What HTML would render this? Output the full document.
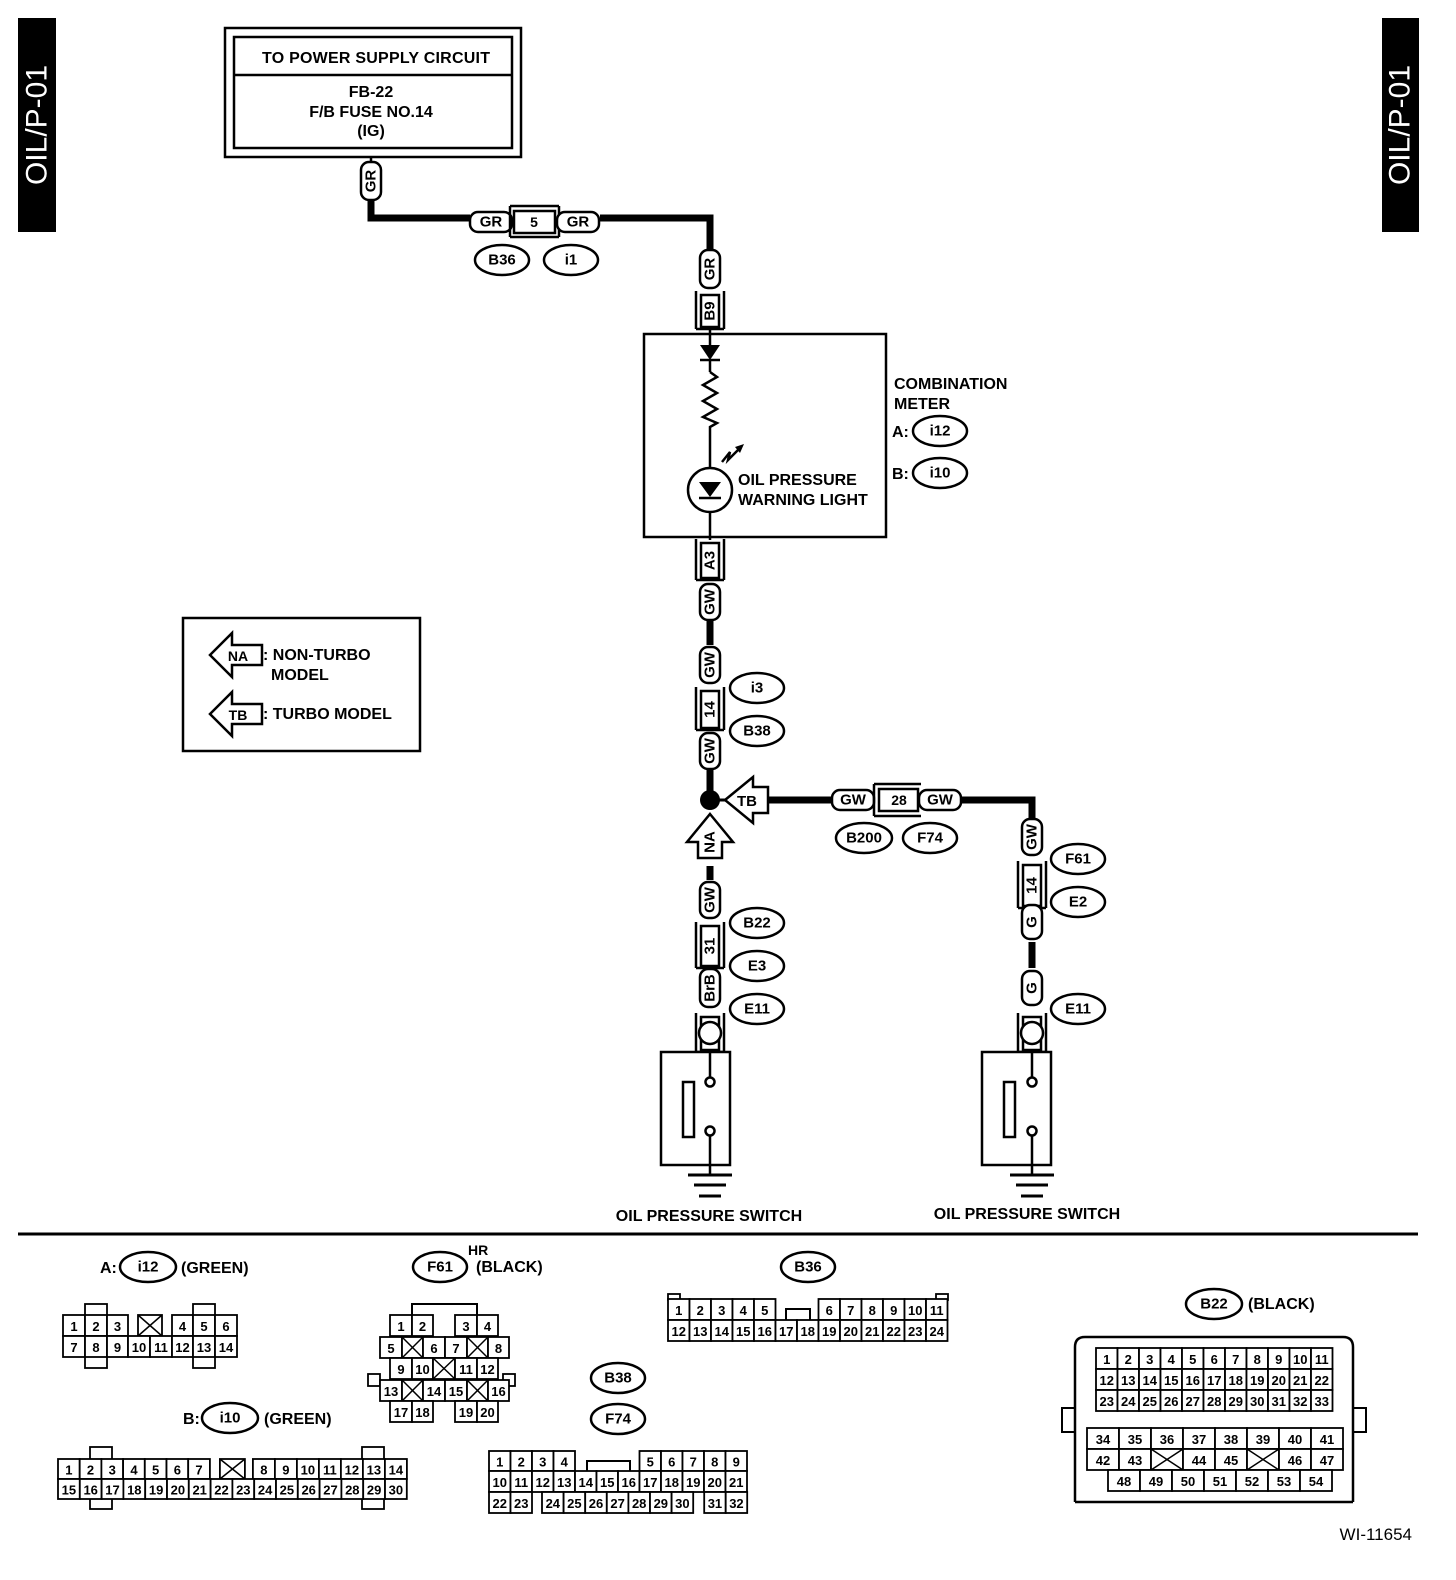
<!DOCTYPE html>
<html><head><meta charset="utf-8"><style>
html,body{margin:0;padding:0;background:#fff}
svg{display:block}
text{font-family:"Liberation Sans",Arial,sans-serif;font-weight:bold;fill:#000}
</style></head><body>
<svg id="s" width="1456" height="1580" viewBox="0 0 1456 1580" xmlns="http://www.w3.org/2000/svg">
<rect width="1456" height="1580" fill="#fff"/>
<rect x="18" y="18" width="38" height="214" fill="#000"/>
<text x="37" y="125" fill="#fff" style="fill:#fff;font-weight:normal" font-size="30" text-anchor="middle" dominant-baseline="central" transform="rotate(-90 37 125)">OIL/P-01</text>
<rect x="1382" y="18" width="37" height="214" fill="#000"/>
<text x="1400" y="125" style="fill:#fff;font-weight:normal" font-size="30" text-anchor="middle" dominant-baseline="central" transform="rotate(-90 1400 125)">OIL/P-01</text>
<rect x="225" y="28" width="296" height="129" fill="none" stroke="#000" stroke-width="2.5"/>
<rect x="234" y="37" width="278" height="111" fill="none" stroke="#000" stroke-width="2.5"/>
<line x1="234" y1="75" x2="512" y2="75" stroke="#000" stroke-width="2.5"/>
<text x="376" y="63" font-size="16" text-anchor="middle" textLength="228">TO POWER SUPPLY CIRCUIT</text>
<text x="371" y="97" font-size="16" text-anchor="middle">FB-22</text>
<text x="371" y="117" font-size="16" text-anchor="middle">F/B FUSE NO.14</text>
<text x="371" y="136" font-size="16" text-anchor="middle">(IG)</text>
<g stroke="#000" stroke-width="7" fill="none">
<polyline points="371,200 371,218 470,218"/>
<polyline points="600,218 710,218 710,250"/>
<line x1="710" y1="620" x2="710" y2="645"/>
<line x1="710" y1="770" x2="710" y2="800"/>
<line x1="768" y1="800" x2="833" y2="800"/>
<polyline points="962,800 1032,800 1032,818"/>
<line x1="710" y1="866" x2="710" y2="880"/>
<line x1="1032" y1="942" x2="1032" y2="968"/>
</g>
<g stroke="#000" stroke-width="2.5" fill="none">
<line x1="371" y1="157" x2="371" y2="162"/>
<rect x="644" y="334" width="242" height="203"/>
<line x1="710" y1="330" x2="710" y2="345"/>
<line x1="710" y1="360" x2="710" y2="372"/>
<polyline points="710,372 717,377 703,385 717,393 703,401 717,409 703,417 717,423 710,427 710,468"/>
<circle cx="710" cy="490" r="22"/>
<line x1="710" y1="512" x2="710" y2="540"/>
<line x1="699" y1="498" x2="721" y2="498"/>
<line x1="700" y1="360" x2="720" y2="360"/>
<polyline points="722,462 730,452 728,460 738,450"/>
</g>
<polygon points="700,345 720,345 710,360" fill="#000"/>
<polygon points="699,482 721,482 710,497" fill="#000"/>
<polygon points="735,447 744,444 740,453" fill="#000"/>
<text x="738" y="485" font-size="16">OIL PRESSURE</text>
<text x="738" y="505" font-size="16">WARNING LIGHT</text>
<text x="894" y="389" font-size="16">COMBINATION</text>
<text x="894" y="409" font-size="16">METER</text>
<text x="892" y="437" font-size="16">A:</text>
<text x="892" y="479" font-size="16">B:</text>
<circle cx="710" cy="800" r="10" fill="#000"/>
<line x1="710" y1="800" x2="725" y2="800" stroke="#000" stroke-width="3"/>
<path d="M725,800 L753,777 L753,787 L768,787 L768,813 L753,813 L753,823 Z" fill="#fff" stroke="#000" stroke-width="2.5"/>
<text x="747" y="806" font-size="15" text-anchor="middle">TB</text>
<path d="M710,814 L733,842 L722,842 L722,858 L698,858 L698,842 L687,842 Z" fill="#fff" stroke="#000" stroke-width="2.5"/>
<text x="710" y="842" font-size="15" text-anchor="middle" dominant-baseline="central" transform="rotate(-90 710 842)">NA</text>
<rect x="183" y="618" width="237" height="133" fill="none" stroke="#000" stroke-width="2.5"/>
<path d="M210,655 L232,633 L232,645 L262,645 L262,665 L232,665 L232,677 Z" fill="#fff" stroke="#000" stroke-width="2.5"/>
<text x="238" y="661" font-size="14" text-anchor="middle">NA</text>
<path d="M210,714 L232,692 L232,704 L262,704 L262,724 L232,724 L232,736 Z" fill="#fff" stroke="#000" stroke-width="2.5"/>
<text x="238" y="720" font-size="14" text-anchor="middle">TB</text>
<text x="263" y="660" font-size="16">: NON-TURBO</text>
<text x="271" y="680" font-size="16">MODEL</text>
<text x="263" y="719" font-size="16">: TURBO MODEL</text>
<text x="709" y="1221" font-size="16" text-anchor="middle">OIL PRESSURE SWITCH</text>
<text x="1027" y="1219" font-size="16" text-anchor="middle">OIL PRESSURE SWITCH</text>
<line x1="18" y1="1234" x2="1418" y2="1234" stroke="#000" stroke-width="3"/>
<text x="100" y="1273" font-size="16">A:</text>
<text x="181" y="1273" font-size="16">(GREEN)</text>
<text x="468" y="1255" font-size="14">HR</text>
<text x="476" y="1272" font-size="16">(BLACK)</text>
<text x="183" y="1424" font-size="16">B:</text>
<text x="264" y="1424" font-size="16">(GREEN)</text>
<text x="1248" y="1309" font-size="16">(BLACK)</text>
<text x="1412" y="1540" font-size="17" text-anchor="end" style="font-weight:normal">WI-11654</text>
<path d="M1075,1502 L1075,1347 Q1075,1337 1085,1337 L1343,1337 Q1353,1337 1353,1347 L1353,1502" fill="none" stroke="#000" stroke-width="2.5"/>
<path d="M1075,1408 L1062,1408 L1062,1432 L1075,1432 M1353,1408 L1366,1408 L1366,1432 L1353,1432" fill="none" stroke="#000" stroke-width="2"/>
<path d="M1075,1502 L1353,1502" stroke="#000" stroke-width="2.5"/>
<g id="g"></g>
</svg>
<script>
var g=document.getElementById('g'),out='';
function T(x,y,t,fs,rot){out+='<text x="'+x+'" y="'+y+'" font-size="'+(fs||15)+'" text-anchor="middle" dominant-baseline="central"'+(rot?' transform="rotate(-90 '+x+' '+y+')"':'')+'>'+t+'</text>';}
function R(x,y,w,h,sw){out+='<rect x="'+x+'" y="'+y+'" width="'+w+'" height="'+h+'" fill="#fff" stroke="#000" stroke-width="'+(sw||2)+'"/>';}
function L(a,b,c,d,sw){out+='<line x1="'+a+'" y1="'+b+'" x2="'+c+'" y2="'+d+'" stroke="#000" stroke-width="'+(sw||2)+'"/>';}
function O(cx,cy,t,rx){rx=rx||27;out+='<ellipse cx="'+cx+'" cy="'+cy+'" rx="'+rx+'" ry="15" fill="#fff" stroke="#000" stroke-width="2.5"/>';T(cx,cy,t,15);}
function HL(cx,cy,t,w){w=w||42;out+='<rect x="'+(cx-w/2)+'" y="'+(cy-10)+'" width="'+w+'" height="20" rx="8" fill="#fff" stroke="#000" stroke-width="2.5"/>';T(cx,cy,t,15);}
function VL(cx,cy,t,h){h=h||38;out+='<rect x="'+(cx-10)+'" y="'+(cy-h/2)+'" width="20" height="'+h+'" rx="8" fill="#fff" stroke="#000" stroke-width="2.5"/>';T(cx,cy,t,15,1);}
function VC(cx,y1,y2,t){R(cx-9,y1,18,y2-y1,2.5);L(cx-14,y1-4,cx-14,y2+2,2.5);L(cx+14,y1-4,cx+14,y2+2,2.5);L(cx-14,y2+2,cx+14,y2+2,2.5);if(t)T(cx,(y1+y2)/2,t,15,1);}
VL(371,181,'GR',38);
HL(491,222,'GR');R(514,211,41,22,2.5);L(510,206,559,206,2.5);L(510,237,559,237,2.5);L(510,206,510,237,2.5);L(559,206,559,237,2.5);T(534,222,'5',14);HL(578,222,'GR');
O(502,260,'B36');O(571,260,'i1');
VL(710,269,'GR',38);VC(710,295,327,'B9');
O(940,431,'i12');O(940,473,'i10');
VC(710,543,578,'A3');VL(710,602,'GW',36);
VL(710,665,'GW',36);VC(710,691,728,'14');VL(710,751,'GW',36);
O(757,688,'i3');O(757,731,'B38');
HL(853,800,'GW');R(879,789,39,22,2.5);L(874,784,921,784,2.5);L(874,816,921,816,2.5);L(874,784,874,816,2.5);T(899,800,'28',14);HL(940,800,'GW');
O(864,838,'B200',28);O(930,838,'F74');
VL(710,900,'GW',36);VC(710,926,966,'31');VL(710,988,'BrB',38);
O(757,923,'B22');O(757,966,'E3');O(757,1009,'E11');
VL(1032,837,'GW',36);VC(1032,865,906,'14');VL(1032,922,'G',34);VL(1032,988,'G',34);
O(1078,859,'F61');O(1078,902,'E2');O(1078,1009,'E11');
function SW(cx,x1){VC(cx,1017,1050,'');out+='<circle cx="'+cx+'" cy="1033" r="11" fill="#fff" stroke="#000" stroke-width="2.5"/>';
R(x1,1052,69,113,2.5);R(x1+22,1082,11,55,2.5);L(cx,1052,cx,1078,2.5);out+='<circle cx="'+cx+'" cy="1082" r="4.5" fill="#fff" stroke="#000" stroke-width="2.5"/><circle cx="'+cx+'" cy="1131" r="4.5" fill="#fff" stroke="#000" stroke-width="2.5"/>';
L(cx,1136,cx,1175,2.5);L(cx-22,1175,cx+22,1175,3);L(cx-16,1185,cx+16,1185,3);L(cx-11,1196,cx+11,1196,3);}
SW(710,661);SW(1032,982);
O(148,1267,'i12',28);O(440,1267,'F61',27);O(808,1267,'B36',27);O(618,1378,'B38',27);O(618,1419,'F74',27);O(230,1418,'i10',28);O(1214,1304,'B22',28);
function X(x,y,w,h){L(x,y,x+w,y+h,1.5);L(x+w,y,x,y+h,1.5);}
function row(x,y,h,cells,fs){cells.forEach(function(c){var w=c[0],t=c[1];if(t!==null){R(x,y,w,h,1.8);if(t==='X')X(x,y,w,h);else T(x+w/2,y+h/2+1,t,fs||13);}x+=w;});}
function seq(a,b,w){var r=[];for(var i=a;i<=b;i++)r.push([w,''+i]);return r;}
function tab(x,y,w,h){R(x,y,w,h,1.8);}
tab(85,1304,22,12);tab(193,1304,22,12);tab(85,1356,22,12);tab(193,1356,22,12);
row(63,1315,21,[[22,'1'],[22,'2'],[21,'3'],[10,null],[24,'X'],[10,null],[21,'4'],[22,'5'],[22,'6']]);
row(63,1336,21,[[22,'7'],[22,'8'],[21,'9'],[22,'10'],[22,'11'],[21,'12'],[22,'13'],[22,'14']]);
tab(90,1447,22,13);tab(362,1447,22,13);tab(90,1496,22,13);tab(362,1496,22,13);
row(58,1459,20,seq(1,7,21.7).concat([[10,null],[25,'X'],[8,null]]).concat(seq(8,14,22)));
row(58,1479,20,seq(15,30,21.8));
out+='<polyline points="412,1315 412,1304 477,1304 477,1315" fill="none" stroke="#000" stroke-width="2"/>';
row(390,1315,21,[[22,'1'],[21,'2'],[22,null],[22,'3'],[21,'4']]);
row(380,1337,21,[[22,'5'],[21,'X'],[22,'6'],[22,'7'],[21,'X'],[21,'8']]);
row(390,1358,21,[[22,'9'],[21,'10'],[22,'X'],[22,'11'],[21,'12']]);
tab(368,1374,12,12);tab(503,1374,12,12);
row(380,1380,21,[[22,'13'],[21,'X'],[22,'14'],[22,'15'],[21,'X'],[21,'16']]);
row(390,1401,21,[[22,'17'],[21,'18'],[22,null],[22,'19'],[21,'20']]);
tab(668,1294,12,6);tab(936,1294,12,6);
row(668,1299,21,seq(1,5,21.5).concat([[43,null]]).concat(seq(6,11,21.5)));
out+='<polyline points="786,1320 786,1309 810,1309 810,1320" fill="none" stroke="#000" stroke-width="2"/>';
row(668,1320,21,seq(12,24,21.5));
row(489,1451,20,seq(1,4,21.5).concat([[64.5,null]]).concat(seq(5,9,21.5)));
out+='<polyline points="587,1471 587,1461 630,1461 630,1471" fill="none" stroke="#000" stroke-width="2"/>';
row(489,1471,21,seq(10,21,21.5));
row(489,1492,21,[[21.5,'22'],[21.5,'23'],[10,null]].concat(seq(24,30,21.6)).concat([[11,null],[21.5,'31'],[21.5,'32']]));
row(1096,1348,21,seq(1,11,21.5));row(1096,1369,21,seq(12,22,21.5));row(1096,1390,21,seq(23,33,21.5));
row(1087,1428,21,seq(34,41,32));
row(1087,1449,21,[[32,'42'],[32,'43'],[32,'X'],[32,'44'],[32,'45'],[32,'X'],[32,'46'],[32,'47']]);
row(1108,1470,21,seq(48,54,32));
g.innerHTML=out;
</script>
</body></html>
